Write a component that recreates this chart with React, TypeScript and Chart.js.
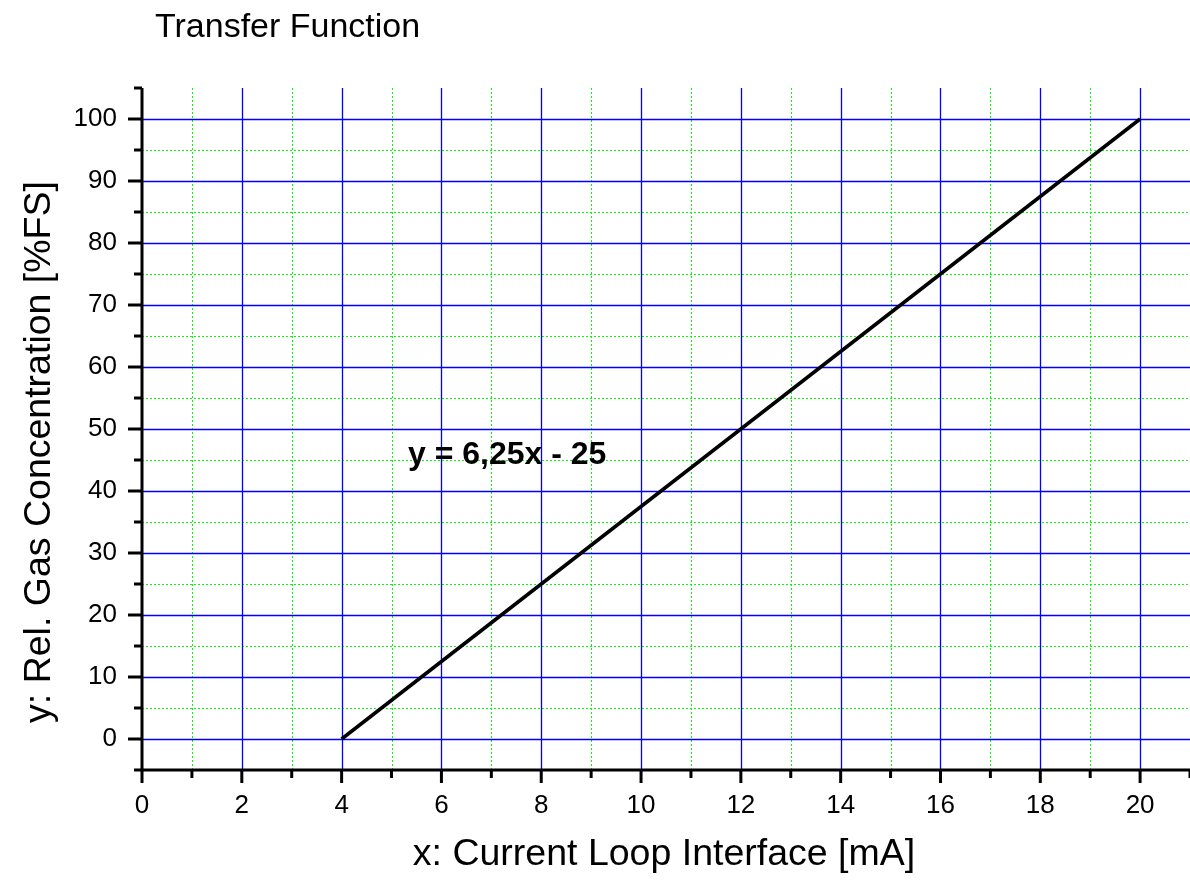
import React, { useEffect, useRef } from "react";
import { Chart, registerables } from "chart.js";

Chart.register(...registerables);

const TITLE = "Transfer Function";
const X_TITLE = "x: Current Loop Interface [mA]";
const Y_TITLE = "y: Rel. Gas Concentration [%FS]";
const EQUATION = "y = 6,25x - 25";

const CURRENT_MA = [4, 20];
const CONCENTRATION = [0, 100];

const X_MIN = 0;
const X_MAX = 21;
const Y_MIN = -5;
const Y_MAX = 105;
const X_MAJOR = [0, 2, 4, 6, 8, 10, 12, 14, 16, 18, 20];
const X_MINOR = [1, 3, 5, 7, 9, 11, 13, 15, 17, 19, 21];
const Y_MAJOR = [0, 10, 20, 30, 40, 50, 60, 70, 80, 90, 100];
const Y_MINOR = [-5, 5, 15, 25, 35, 45, 55, 65, 75, 85, 95, 105];

const EQ_X = 5.33;
const EQ_Y = 44.4;

const FONT = "'Liberation Sans', Arial, Helvetica, sans-serif";

const gridPlugin = {
  id: "originGrid",
  beforeDatasetsDraw(chart: any) {
    const { ctx, chartArea: a, scales } = chart;
    const x = scales.x;
    const y = scales.y;
    ctx.save();
    ctx.lineWidth = 1;
    // minor dotted green
    ctx.strokeStyle = "#00ff00";
    ctx.setLineDash([2, 2]);
    for (const v of X_MINOR) {
      if (v >= X_MAX) continue;
      const px = Math.round(x.getPixelForValue(v)) + 0.5;
      ctx.beginPath();
      ctx.moveTo(px, a.top);
      ctx.lineTo(px, a.bottom);
      ctx.stroke();
    }
    for (const v of Y_MINOR) {
      if (v <= Y_MIN || v >= Y_MAX) continue;
      const py = Math.round(y.getPixelForValue(v)) + 0.5;
      ctx.beginPath();
      ctx.moveTo(a.left, py);
      ctx.lineTo(a.right, py);
      ctx.stroke();
    }
    // major solid blue
    ctx.setLineDash([]);
    ctx.strokeStyle = "#0000ff";
    ctx.lineWidth = 1.3;
    for (const v of X_MAJOR) {
      if (v <= X_MIN) continue;
      const px = Math.round(x.getPixelForValue(v)) + 0.5;
      ctx.beginPath();
      ctx.moveTo(px, a.top);
      ctx.lineTo(px, a.bottom);
      ctx.stroke();
    }
    for (const v of Y_MAJOR) {
      const py = Math.round(y.getPixelForValue(v)) + 0.5;
      ctx.beginPath();
      ctx.moveTo(a.left, py);
      ctx.lineTo(a.right, py);
      ctx.stroke();
    }
    ctx.restore();
  },
  afterDatasetsDraw(chart: any) {
    const { ctx, chartArea: a, scales } = chart;
    const x = scales.x;
    const y = scales.y;
    ctx.save();
    ctx.strokeStyle = "#000";
    ctx.lineWidth = 3;
    ctx.lineCap = "butt";
    // axes lines
    ctx.beginPath();
    ctx.moveTo(a.left, a.top);
    ctx.lineTo(a.left, a.bottom + 1.5);
    ctx.stroke();
    ctx.beginPath();
    ctx.moveTo(a.left - 1.5, a.bottom);
    ctx.lineTo(a.right, a.bottom);
    ctx.stroke();
    // y ticks
    for (const v of Y_MAJOR) {
      const py = y.getPixelForValue(v);
      ctx.beginPath();
      ctx.moveTo(a.left - 14, py);
      ctx.lineTo(a.left, py);
      ctx.stroke();
    }
    for (const v of Y_MINOR) {
      const py = y.getPixelForValue(v);
      ctx.beginPath();
      ctx.moveTo(a.left - 8, py);
      ctx.lineTo(a.left, py);
      ctx.stroke();
    }
    // x ticks
    for (const v of X_MAJOR) {
      const px = x.getPixelForValue(v);
      ctx.beginPath();
      ctx.moveTo(px, a.bottom);
      ctx.lineTo(px, a.bottom + 13);
      ctx.stroke();
    }
    for (const v of X_MINOR) {
      const px = x.getPixelForValue(v);
      ctx.beginPath();
      ctx.moveTo(px, a.bottom);
      ctx.lineTo(px, a.bottom + 8);
      ctx.stroke();
    }
    // texts
    ctx.fillStyle = "#000";
    ctx.textBaseline = "alphabetic";
    ctx.textAlign = "left";
    ctx.font = `34px ${FONT}`;
    ctx.fillText(TITLE, 155, 37);

    ctx.font = `bold 32px ${FONT}`;
    ctx.fillText(EQUATION, x.getPixelForValue(EQ_X), y.getPixelForValue(EQ_Y));

    ctx.font = `37.5px ${FONT}`;
    ctx.textAlign = "center";
    ctx.fillText(X_TITLE, (a.left + a.right) / 2 - 2, 865);

    ctx.translate(50, 452);
    ctx.rotate(-Math.PI / 2);
    ctx.fillText(Y_TITLE, 0, 0);
    ctx.restore();
  },
};

export default function App() {
  const ref = useRef<HTMLCanvasElement | null>(null);
  useEffect(() => {
    if (!ref.current) return;
    const chart = new Chart(ref.current, {
      type: "line",
      data: {
        datasets: [
          {
            data: CURRENT_MA.map((v, i) => ({ x: v, y: CONCENTRATION[i] })),
            borderColor: "#000",
            borderWidth: 3.5,
            pointRadius: 0,
            fill: false,
          },
        ],
      },
      options: {
        animation: false,
        responsive: false,
        devicePixelRatio: 1,
        layout: { padding: { top: 88, right: 0, left: 0, bottom: 0 } },
        plugins: { legend: { display: false }, tooltip: { enabled: false }, title: { display: false } },
        scales: {
          x: {
            type: "linear",
            min: X_MIN,
            max: X_MAX,
            grid: { display: false, drawTicks: false },
            border: { display: false },
            ticks: {
              stepSize: 1,
              autoSkip: false,
              maxRotation: 0,
              padding: 20,
              color: "#000",
              font: { family: FONT, size: 26 },
              callback: (v: any) => (X_MAJOR.includes(Number(v)) ? String(v) : ""),
            },
            afterFit: (s: any) => {
              s.height = 115;
              s.paddingLeft = 0;
              s.paddingRight = 0;
            },
          },
          y: {
            type: "linear",
            min: Y_MIN,
            max: Y_MAX,
            grid: { display: false, drawTicks: false },
            border: { display: false },
            ticks: {
              stepSize: 5,
              autoSkip: false,
              padding: 25,
              color: "#000",
              font: { family: FONT, size: 26 },
              callback: (v: any) => (Y_MAJOR.includes(Number(v)) ? String(v) : ""),
            },
            afterFit: (s: any) => {
              s.width = 142;
              s.paddingTop = 0;
              s.paddingBottom = 0;
            },
          },
        },
      },
      plugins: [gridPlugin],
    });
    return () => chart.destroy();
  }, []);
  return (
    <div style={{ position: "fixed", left: 0, top: 0, width: 1190, height: 885, background: "#fff" }}>
      <canvas ref={ref} width={1190} height={885} style={{ display: "block" }} />
    </div>
  );
}
